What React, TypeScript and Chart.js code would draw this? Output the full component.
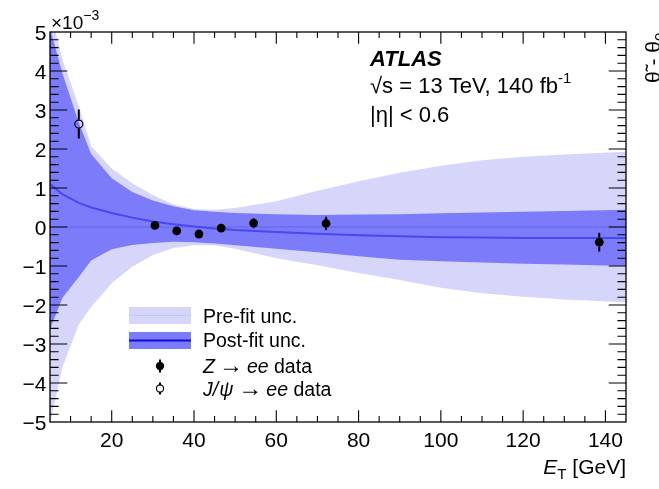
import React, { useEffect, useRef } from "react";
import { Chart, registerables } from "chart.js";

Chart.register(...registerables);

// ---------------- data ----------------
const bandEt = [5, 8, 12, 15, 20, 25, 30, 35, 40, 45, 50, 60, 70, 80, 90, 100, 110, 120, 130, 145];
const preFitUp = [5.6, 4.3, 3.1, 2.08, 1.5, 1.12, 0.82, 0.58, 0.46, 0.44, 0.49, 0.66, 0.93, 1.17, 1.39, 1.57, 1.71, 1.8, 1.86, 1.93];
const preFitDown = [-5.05, -3.6, -2.5, -2.05, -1.44, -1.02, -0.72, -0.54, -0.47, -0.47, -0.56, -0.8, -0.98, -1.18, -1.36, -1.56, -1.7, -1.79, -1.86, -1.93];
const preFitCentral = [0, 0, 0, 0, 0, 0, 0, 0, 0, 0, 0, 0, 0, 0, 0, 0, 0, 0, 0, 0];
const postFitUp = [5.1, 3.95, 2.68, 1.87, 1.25, 0.9, 0.68, 0.53, 0.43, 0.39, 0.36, 0.33, 0.31, 0.32, 0.33, 0.35, 0.37, 0.39, 0.41, 0.44];
const postFitDown = [-2.62, -1.82, -1.28, -0.86, -0.57, -0.46, -0.41, -0.38, -0.39, -0.42, -0.47, -0.56, -0.65, -0.75, -0.84, -0.88, -0.91, -0.94, -0.96, -1.0];
const postFitCentral = [1.1, 0.84, 0.62, 0.5, 0.36, 0.24, 0.14, 0.07, 0.01, -0.04, -0.08, -0.13, -0.17, -0.21, -0.24, -0.26, -0.27, -0.28, -0.28, -0.28];

const zEt = [30.5, 35.8, 41.2, 46.6, 54.5, 72.1, 138.5];
const zVal = [0.04, -0.1, -0.18, -0.03, 0.1, 0.09, -0.39];
const zErr = [0.05, 0.06, 0.06, 0.07, 0.13, 0.17, 0.24];

const jpsiEt = [12.0];
const jpsiVal = [2.64];
const jpsiErr = [0.37];

const xTickValues = [20, 40, 60, 80, 100, 120, 140];
const xTickLabels = ["20", "40", "60", "80", "100", "120", "140"];
const yTickValues = [5, 4, 3, 2, 1, 0, -1, -2, -3, -4, -5];
const yTickLabels = ["5", "4", "3", "2", "1", "0", "\u22121", "\u22122", "\u22123", "\u22124", "\u22125"];

const X_MIN = 5;
const X_MAX = 145;
const Y_MIN = -5;
const Y_MAX = 5;

// ---------------- style ----------------
const LIGHT = "rgb(214,214,251)";
const DARK = "rgb(124,124,250)";
const CENTRAL = "rgb(72,72,242)";
const FAM = '"Liberation Sans", Arial, Helvetica, sans-serif';
const F = (size: number, style = "") => `${style} ${size}px ${FAM}`.trim();

type Part = { t: string; font: string; dy?: number; dx?: number };

function drawParts(ctx: CanvasRenderingContext2D, parts: Part[], x: number, y: number, align: "left" | "right" | "center") {
  let total = 0;
  for (const p of parts) {
    ctx.font = p.font;
    total += ctx.measureText(p.t).width + (p.dx || 0);
  }
  let cx = align === "left" ? x : align === "right" ? x - total : x - total / 2;
  ctx.textAlign = "left";
  ctx.textBaseline = "alphabetic";
  for (const p of parts) {
    ctx.font = p.font;
    ctx.fillText(p.t, cx, y + (p.dy || 0));
    cx += ctx.measureText(p.t).width + (p.dx || 0);
  }
}

const pts = (xs: number[], ys: number[]) => xs.map((x, i) => ({ x, y: ys[i] }));

const decorPlugin = {
  id: "atlasDecor",
  afterDatasetsDraw(chart: any) {
    const { ctx, scales } = chart;
    const x = scales.x;
    const y = scales.y;
    ctx.save();
    ctx.strokeStyle = "#000";
    ctx.lineWidth = 2;
    const bars = (es: number[], vs: number[], errs: number[], rad: number) => {
      es.forEach((e, i) => {
        const px = x.getPixelForValue(e);
        const py = y.getPixelForValue(vs[i]);
        const top = y.getPixelForValue(vs[i] + errs[i]);
        const bot = y.getPixelForValue(vs[i] - errs[i]);
        ctx.beginPath();
        if (top < py - rad) {
          ctx.moveTo(px, top);
          ctx.lineTo(px, py - rad);
        }
        if (bot > py + rad) {
          ctx.moveTo(px, py + rad);
          ctx.lineTo(px, bot);
        }
        ctx.stroke();
      });
    };
    bars(zEt, zVal, zErr, 4.4);
    bars(jpsiEt, jpsiVal, jpsiErr, 4.3);
    ctx.restore();
  },
  afterDraw(chart: any) {
    const { ctx, chartArea: a, scales } = chart;
    const x = scales.x;
    const y = scales.y;
    ctx.save();
    // frame
    ctx.strokeStyle = "#000";
    ctx.lineWidth = 1.3;
    ctx.strokeRect(a.left, a.top, a.right - a.left, a.bottom - a.top);
    // ticks
    ctx.lineWidth = 1.1;
    ctx.beginPath();
    for (let v = X_MIN + 5; v < X_MAX; v += 5) {
      const px = x.getPixelForValue(v);
      const len = v % 20 === 0 ? 11.7 : 5.9;
      ctx.moveTo(px, a.bottom);
      ctx.lineTo(px, a.bottom - len);
      ctx.moveTo(px, a.top);
      ctx.lineTo(px, a.top + len);
    }
    for (let k = -24; k <= 24; k++) {
      const v = k * 0.2;
      const py = y.getPixelForValue(v);
      const len = k % 5 === 0 ? 17.3 : 8.6;
      ctx.moveTo(a.left, py);
      ctx.lineTo(a.left + len, py);
      ctx.moveTo(a.right, py);
      ctx.lineTo(a.right - len, py);
    }
    ctx.stroke();

    ctx.fillStyle = "#000";
    // y tick labels
    ctx.font = F(21);
    ctx.textAlign = "right";
    ctx.textBaseline = "alphabetic";
    yTickValues.forEach((v, i) => {
      ctx.fillText(yTickLabels[i], a.left - 3.5, y.getPixelForValue(v) + 7.5);
    });
    // x tick labels
    ctx.textAlign = "center";
    xTickValues.forEach((v, i) => {
      ctx.fillText(xTickLabels[i], x.getPixelForValue(v), a.bottom + 24.5);
    });
    // exponent
    drawParts(ctx, [
      { t: "\u00d710", font: F(19) },
      { t: "\u22123", font: F(14), dy: -9 },
    ], a.left + 1, 29, "left");
    // x title
    drawParts(ctx, [
      { t: "E", font: F(21, "italic") },
      { t: "T", font: F(15), dy: 5 },
      { t: " [GeV]", font: F(21) },
    ], a.right, 474, "right");
    // rotated y title (cut at the right edge)
    ctx.save();
    ctx.translate(660, 83);
    ctx.rotate(-Math.PI / 2);
    drawParts(ctx, [
      { t: "\u03b8\u0303 - \u03b8", font: F(21) },
      { t: "0", font: F(15), dy: 5 },
    ], 0, 0, "left");
    ctx.restore();

    // ATLAS label
    drawParts(ctx, [{ t: "ATLAS", font: F(22, "italic bold") }], 370, 66, "left");
    drawParts(ctx, [
      { t: "\u221as = 13 TeV, 140 fb", font: F(22) },
      { t: "-1", font: F(15), dy: -10 },
    ], 370, 93, "left");
    drawParts(ctx, [{ t: "|\u03b7| < 0.6", font: F(22) }], 370, 122, "left");

    // legend
    ctx.fillStyle = LIGHT;
    ctx.fillRect(129, 307, 62, 17);
    ctx.strokeStyle = "rgb(196,196,246)";
    ctx.lineWidth = 1;
    ctx.beginPath();
    ctx.moveTo(129, 315.5);
    ctx.lineTo(191, 315.5);
    ctx.stroke();
    ctx.fillStyle = DARK;
    ctx.fillRect(129, 332, 62, 17);
    ctx.strokeStyle = "rgb(10,10,225)";
    ctx.lineWidth = 2;
    ctx.beginPath();
    ctx.moveTo(129, 340.5);
    ctx.lineTo(191, 340.5);
    ctx.stroke();
    // Z marker
    ctx.strokeStyle = "#000";
    ctx.fillStyle = "#000";
    ctx.lineWidth = 2;
    ctx.beginPath();
    ctx.moveTo(160, 359.5);
    ctx.lineTo(160, 372.5);
    ctx.stroke();
    ctx.beginPath();
    ctx.arc(160, 366, 4.2, 0, Math.PI * 2);
    ctx.fill();
    // J/psi marker
    ctx.beginPath();
    ctx.moveTo(160, 382.5);
    ctx.lineTo(160, 385);
    ctx.moveTo(160, 392);
    ctx.lineTo(160, 394.5);
    ctx.stroke();
    ctx.lineWidth = 1.2;
    ctx.fillStyle = "#fff";
    ctx.beginPath();
    ctx.arc(160, 388.5, 3.6, 0, Math.PI * 2);
    ctx.fill();
    ctx.stroke();

    ctx.fillStyle = "#000";
    drawParts(ctx, [{ t: "Pre-fit unc.", font: F(19.5) }], 203, 322.5, "left");
    drawParts(ctx, [{ t: "Post-fit unc.", font: F(19.5) }], 203, 347, "left");
    drawParts(ctx, [
      { t: "Z", font: F(19.5, "italic"), dx: 4 },
      { t: "\u2192", font: F(24) , dx: 4},
      { t: "ee", font: F(19.5, "italic") },
      { t: " data", font: F(19.5) },
    ], 203, 372.5, "left");
    drawParts(ctx, [
      { t: "J/", font: F(19.5, "italic"), dx: 1 },
      { t: "\u03c8", font: F(19.5, "italic"), dx: 5 },
      { t: "\u2192", font: F(24), dx: 4 },
      { t: "ee", font: F(19.5, "italic") },
      { t: " data", font: F(19.5) },
    ], 203, 395.5, "left");
    ctx.restore();
  },
};

export default function App() {
  const ref = useRef<HTMLCanvasElement>(null);
  useEffect(() => {
    const canvas = ref.current;
    if (!canvas) return;
    const lineDs = (label: string, ys: number[], extra: any) => ({
      label,
      data: pts(bandEt, ys),
      showLine: true,
      pointRadius: 0,
      borderWidth: 0,
      tension: 0,
      ...extra,
    });
    const chart = new Chart(canvas, {
      type: "scatter",
      data: {
        datasets: [
          lineDs("preUp", preFitUp, { fill: "+1", backgroundColor: LIGHT, borderColor: "rgba(0,0,0,0)", order: 10 }),
          lineDs("preDown", preFitDown, { fill: false, borderColor: "rgba(0,0,0,0)", order: 10 }),
          lineDs("postUp", postFitUp, { fill: "+1", backgroundColor: DARK, borderColor: "rgba(0,0,0,0)", order: 6 }),
          lineDs("postDown", postFitDown, { fill: false, borderColor: "rgba(0,0,0,0)", order: 6 }),
          lineDs("preCentral", preFitCentral, { fill: false, borderColor: "rgba(92,92,232,0.55)", borderWidth: 1.5, order: 5 }),
          lineDs("postCentral", postFitCentral, { fill: false, borderColor: CENTRAL, borderWidth: 2, order: 4 }),
          {
            label: "Z",
            data: pts(zEt, zVal),
            pointRadius: 4.4,
            pointBackgroundColor: "#000",
            pointBorderColor: "#000",
            pointBorderWidth: 0,
            order: 1,
          },
          {
            label: "Jpsi",
            data: pts(jpsiEt, jpsiVal),
            pointRadius: 4,
            pointBackgroundColor: "rgba(0,0,0,0)",
            pointBorderColor: "#000",
            pointBorderWidth: 1.2,
            order: 1,
          },
        ],
      },
      options: {
        responsive: false,
        animation: false,
        devicePixelRatio: 1,
        events: [],
        layout: { padding: { left: 50, top: 32, right: 33, bottom: 67 } },
        plugins: { legend: { display: false }, tooltip: { enabled: false } },
        scales: {
          x: { type: "linear", min: X_MIN, max: X_MAX, display: false },
          y: { type: "linear", min: Y_MIN, max: Y_MAX, display: false },
        },
      },
      plugins: [decorPlugin],
    } as any);
    return () => chart.destroy();
  }, []);
  return (
    <div style={{ position: "absolute", left: 0, top: 0, width: 659, height: 489, background: "#fff" }}>
      <canvas ref={ref} width={659} height={489} style={{ display: "block", width: 659, height: 489 }} />
    </div>
  );
}
